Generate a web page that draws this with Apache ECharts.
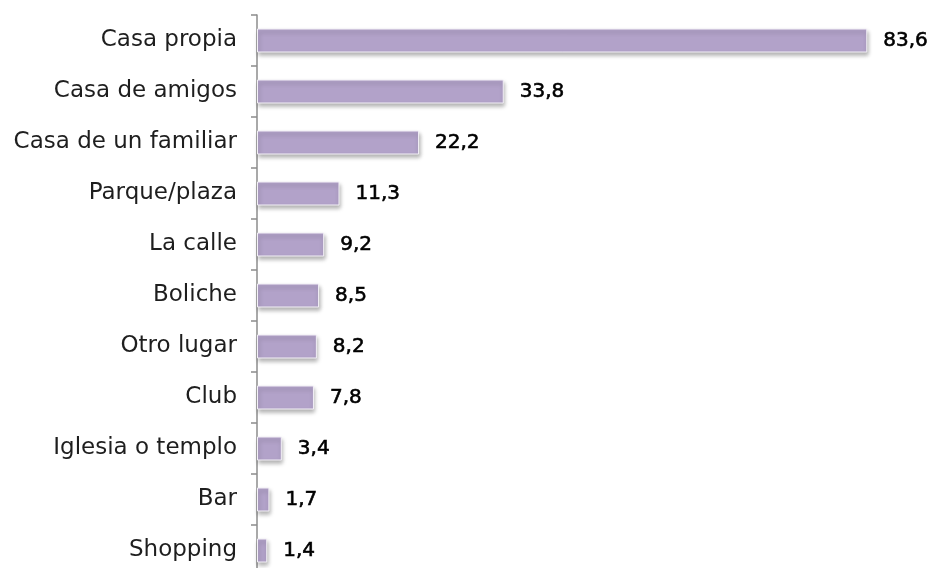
<!DOCTYPE html>
<html>
<head>
<meta charset="utf-8">
<script src="https://cdn.jsdelivr.net/npm/echarts@6/dist/echarts.min.js"></script>
<style>html,body{margin:0;padding:0;background:#fff;overflow:hidden}#c{width:932px;height:600px}</style>
</head>
<body>
<div id="c"></div>
<script>
const categories = ["Casa propia","Casa de amigos","Casa de un familiar","Parque/plaza","La calle","Boliche","Otro lugar","Club","Iglesia o templo","Bar","Shopping"];
const values = [83.6,33.8,22.2,11.3,9.2,8.5,8.2,7.8,3.4,1.7,1.4];

const chart = echarts.init(document.getElementById('c'));
chart.setOption({
  animation:false,
  grid:{left:257, top:15, width:657, height:561},
  xAxis:{type:'value', min:0, max:90, show:false},
  yAxis:{type:'category', data:categories, inverse:true,
    axisLine:{show:true, lineStyle:{color:'#8c8c8c', width:1.5}},
    axisTick:{show:true, length:6, alignWithLabel:false, lineStyle:{color:'#8c8c8c', width:1.5}},
    axisLabel:{fontFamily:'DejaVu Sans', fontSize:23, color:'#1e1e1e', margin:20}
  },
  series:[{type:'bar', data:values, barWidth:24,
    itemStyle:{color:'#b2a2c9', borderColor:'#f3f0f7', borderWidth:1,
      shadowColor:'rgba(0,0,0,0.3)', shadowBlur:4, shadowOffsetX:1, shadowOffsetY:3},
    label:{show:true, position:'right', distance:16, fontFamily:'DejaVu Sans', fontSize:20, color:'#000',
      textBorderColor:'#000', textBorderWidth:0.6,
      formatter:p=>String(p.value).replace('.',',')}
  }]
});
</script>
</body>
</html>
